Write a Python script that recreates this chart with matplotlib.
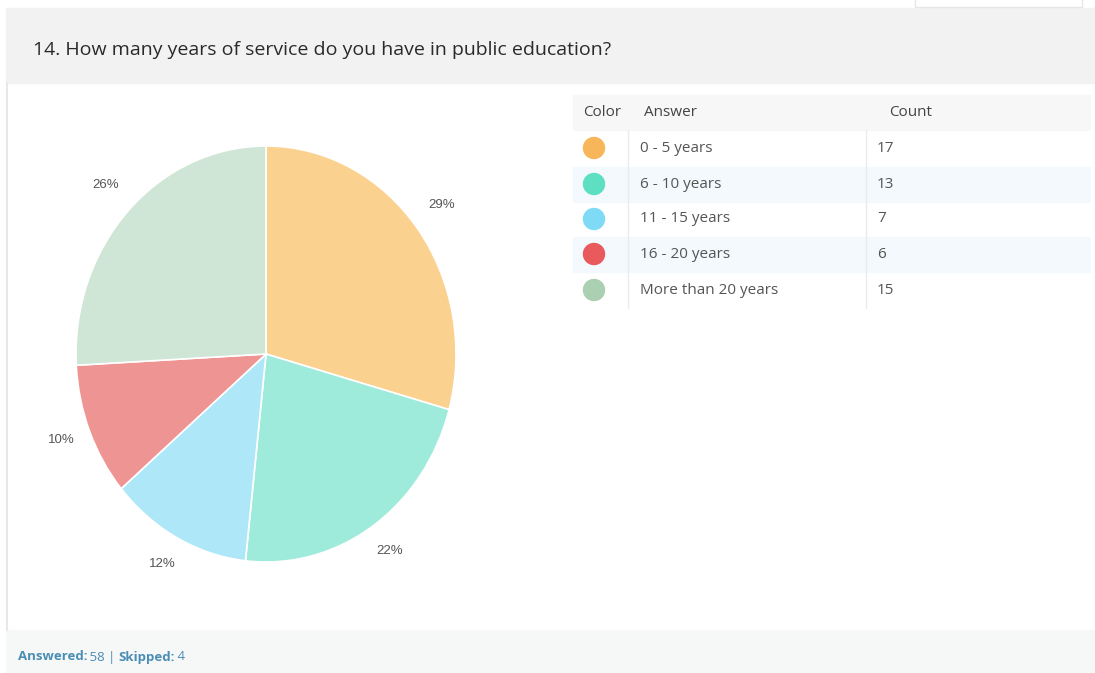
import matplotlib.pyplot as plt
from matplotlib.patches import Rectangle, Ellipse

plt.rcParams['font.family'] = ['Open Sans', 'DejaVu Sans']

# Survey question 14 results
title = "14. How many years of service do you have in public education?"
answers = ["0 - 5 years", "6 - 10 years", "11 - 15 years", "16 - 20 years", "More than 20 years"]
counts = [17, 13, 7, 6, 15]
answered = 58
skipped = 4

dot_colors = ["#F8B65A", "#5EDFC2", "#7FDAF6", "#E85A5C", "#AACFB1"]
slice_colors = ["#FBD190", "#9FEBDB", "#AEE8F8", "#EE9492", "#CFE5D5"]

W, H = 1095, 673
fig = plt.figure(figsize=(W / 100, H / 100), dpi=100)

# background axes in pixel coordinates
bg = fig.add_axes([0, 0, 1, 1])
bg.set_xlim(0, W)
bg.set_ylim(H, 0)
bg.axis('off')

bg.add_patch(Rectangle((0, 0), W, H, color='white', zorder=0))
bg.add_patch(Rectangle((6, 8), W - 6, 75, color='#F2F2F2', zorder=1))
bg.add_patch(Rectangle((915, -2), 167, 9, fc='white', ec='#E6E6E6', lw=1, zorder=1))
bg.add_patch(Rectangle((6, 630), W - 6, 43, color='#F6F7F7', zorder=1))
bg.plot([7, 7], [83, 630], color='#E8E8E8', lw=1.5, zorder=2)

bg.text(33, 50, title, fontsize=14, color='#2A2A2A', va='center', ha='left', zorder=3)

# footer: "Answered: 58 | Skipped: 4"
fx = 18
parts = [("Answered:", 'bold'), (" " + str(answered) + " | ", 'normal'),
         ("Skipped:", 'bold'), (" " + str(skipped), 'normal')]
r = fig.canvas.get_renderer()
x = fx
for s, w in parts:
    tt = bg.text(x, 657, s, fontsize=9.5, fontweight=w, color='#4A8DB5', va='center', ha='left', zorder=3)
    x += tt.get_window_extent(renderer=r).width - 1

# table
tx0, tx1 = 573, 1090
row_y = [148, 184, 219, 254, 290]
bg.add_patch(Rectangle((tx0, 95), tx1 - tx0, 35, color='#F7F7F7', zorder=1))
for i, y in enumerate(row_y):
    if i % 2 == 1:
        bg.add_patch(Rectangle((tx0, y - 17.5), tx1 - tx0, 35, color='#F3F9FD', zorder=1))
bg.plot([628, 628], [130, 308], color='#EBEBEB', lw=1, zorder=2)
bg.plot([866, 866], [130, 308], color='#EBEBEB', lw=1, zorder=2)

hdr = dict(fontsize=11, color='#444444', va='center', ha='left', zorder=3)
bg.text(583, 112, "Color", **hdr)
bg.text(644, 112, "Answer", **hdr)
bg.text(889, 112, "Count", **hdr)
for y, a, c, col in zip(row_y, answers, counts, dot_colors):
    bg.add_patch(Ellipse((594, y), 21, 21, color=col, zorder=3))
    bg.text(640, y, a, fontsize=11, color='#555555', va='center', ha='left', zorder=3)
    bg.text(877, y, str(c), fontsize=11, color='#555555', va='center', ha='left', zorder=3)

# pie (slightly elliptical)
cx, cy, rx, ry = 266, 354, 190, 208
pa = fig.add_axes([(cx - rx) / W, 1 - (cy + ry) / H, 2 * rx / W, 2 * ry / H])
wedges, labels, pcts = pa.pie(
    counts, colors=slice_colors, startangle=90, counterclock=False,
    autopct=lambda p: f"{p:.0f}%", pctdistance=1.16,
    wedgeprops=dict(edgecolor='white', linewidth=1.2),
    textprops=dict(fontsize=9.5, color='#555555', family=['Liberation Sans', 'DejaVu Sans']))
pa.set_aspect('auto')
pa.set_xlim(-1, 1)
pa.set_ylim(-1, 1)
# nudge percentage labels up a little
for t in pcts:
    px, py = t.get_position()
    t.set_position((px, py + 0.015))

fig.savefig("out.png", dpi=100)
